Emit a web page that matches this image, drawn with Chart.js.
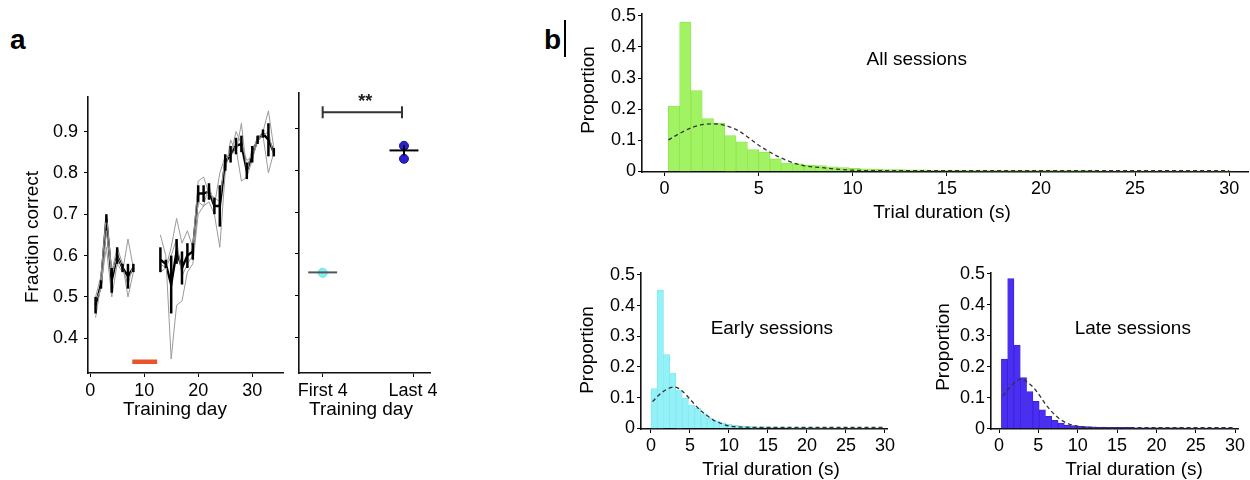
<!DOCTYPE html>
<html>
<head>
<meta charset="utf-8">
<script src="https://cdn.jsdelivr.net/npm/chart.js@4.4.1/dist/chart.umd.min.js"></script>
<style>
  body { margin: 0; background: #fff; width: 1250px; height: 480px; position: relative; overflow: hidden; font-family: "Liberation Sans", Arial, sans-serif; }
  canvas { position: absolute; }
  .panel-letter { position: absolute; font-weight: bold; font-size: 28px; line-height: 28px; color: #000; }
  .cursor-bar { position: absolute; background: #000; }
</style>
</head>
<body>
<div class="panel-letter" style="left:10px; top:26px;">a</div>
<div class="panel-letter" style="left:544px; top:26px;">b</div>
<div class="cursor-bar" style="left:564px; top:20px; width:2px; height:37px;"></div>

<canvas id="learnChart" width="290" height="340" style="left:0; top:80px;"></canvas>
<canvas id="groupChart" width="160" height="340" style="left:290px; top:80px;"></canvas>
<canvas id="allChart" width="690" height="230" style="left:560px; top:0;"></canvas>
<canvas id="earlyChart" width="330" height="220" style="left:570px; top:260px;"></canvas>
<canvas id="lateChart" width="330" height="220" style="left:920px; top:260px;"></canvas>

<script>
// ===== DATA: panel a, learning curve =====
var dayTicks = [0, 10, 20, 30];
var fracTicks = [0.4, 0.5, 0.6, 0.7, 0.8, 0.9];

var daysEarly = [1, 2, 3, 4, 5, 6, 7, 8];
var meanEarly = [0.48, 0.53, 0.69, 0.54, 0.60, 0.57, 0.55, 0.57];
var errEarly = [0.02, 0.01, 0.01, 0.03, 0.02, 0.01, 0.03, 0.01];
var subjEarly = [
    [0.45, 0.53, 0.62, 0.50, 0.58, 0.56, 0.64, 0.57],
    [0.50, 0.55, 0.70, 0.56, 0.62, 0.58, 0.50, 0.56],
    [0.49, 0.52, 0.66, 0.55, 0.60, 0.57, 0.53, 0.58]
];

var daysLate = [13, 14, 15, 16, 17, 18, 19, 20, 21, 22, 23, 24, 25, 26, 27, 28, 29, 30, 31, 32, 33, 34];
var meanLate = [0.59, 0.58, 0.53, 0.61, 0.57, 0.60, 0.61, 0.75, 0.75, 0.755, 0.72, 0.72, 0.825, 0.845, 0.865, 0.87, 0.805, 0.845, 0.88, 0.895, 0.88, 0.85];
var errLate = [0.03, 0.01, 0.07, 0.03, 0.04, 0.03, 0.02, 0.02, 0.02, 0.02, 0.02, 0.05, 0.02, 0.02, 0.02, 0.02, 0.02, 0.02, 0.01, 0.01, 0.04, 0.01];
var subjLate = [
    [0.65, 0.60, 0.35, 0.48, 0.49, 0.56, 0.58, 0.70, 0.72, 0.73, 0.70, 0.62, 0.80, 0.88, 0.85, 0.92, 0.80, 0.86, 0.88, 0.90, 0.95, 0.86],
    [0.58, 0.57, 0.62, 0.69, 0.63, 0.66, 0.62, 0.78, 0.79, 0.75, 0.74, 0.73, 0.84, 0.84, 0.90, 0.87, 0.83, 0.84, 0.89, 0.89, 0.80, 0.85],
    [0.56, 0.57, 0.60, 0.64, 0.55, 0.58, 0.60, 0.73, 0.72, 0.77, 0.72, 0.80, 0.84, 0.84, 0.86, 0.78, 0.79, 0.83, 0.88, 0.89, 0.90, 0.84]
];

var laserDays = [7.8, 12.4];
var laserLevel = 0.343;

// ===== DATA: panel a, first vs last 4 days =====
var groupLabels = ['First 4', 'Last 4'];
var groupPos = [1, 2];
var groupDotX = [1.0, 1.9];
var firstDots = [0.555];
var lastDots = [0.858, 0.827];
var groupMeans = [0.556, 0.847];
var groupErr = [0, 0.012];
var bracketX = [1.0, 1.878];
var bracketLevel = 0.938;

// ===== DATA: panel b, trial duration histograms =====
var durTicks = [0, 5, 10, 15, 20, 25, 30];
var propTicks = [0, 0.1, 0.2, 0.3, 0.4, 0.5];

var allBinStart = 0.2, allBinWidth = 0.6;
var allProp = [0.21, 0.48, 0.26, 0.17, 0.155, 0.115, 0.095, 0.07, 0.062, 0.04,
    0.027, 0.024, 0.02, 0.019, 0.015, 0.012, 0.01, 0.008, 0.007, 0.006,
    0.006, 0.005, 0.005, 0.004, 0.004, 0.004, 0.003, 0.003, 0.003, 0.003,
    0.003, 0.003, 0.003, 0.003, 0.003, 0.003, 0.003, 0.003, 0.002, 0.002,
    0.002, 0.002, 0.002, 0.002, 0.002, 0.002, 0.002, 0.002, 0.002, 0.002];
var allFitX = [0.2, 0.8, 1.5, 2.1, 2.6, 3.2, 4.0, 5.1, 6.2, 7.2, 8.5, 9.9, 12, 15, 20, 25, 30];
var allFitY = [0.101, 0.122, 0.142, 0.151, 0.153, 0.148, 0.128, 0.08, 0.043, 0.021, 0.011, 0.004, 0.002, 0.002, 0.002, 0.002, 0.002];

var earlyBinStart = 0.0, earlyBinWidth = 0.8;
var earlyProp = [0.13, 0.45, 0.24, 0.18, 0.125, 0.098, 0.076, 0.065, 0.047, 0.033,
    0.025, 0.018, 0.013, 0.01, 0.008, 0.007, 0.006, 0.005, 0.005, 0.004,
    0.004, 0.004, 0.003, 0.003, 0.003, 0.003, 0.003, 0.003, 0.003, 0.002,
    0.002, 0.002, 0.002, 0.002, 0.002, 0.002, 0.002];
var earlyFitX = [0.2, 1.0, 2.0, 3.0, 4.0, 5.0, 6.0, 7.0, 8.0, 9.0, 10.0, 12, 15, 20, 25, 30];
var earlyFitY = [0.087, 0.108, 0.127, 0.135, 0.122, 0.095, 0.067, 0.045, 0.027, 0.016, 0.008, 0.004, 0.003, 0.003, 0.003, 0.003];

var lateBinStart = 0.3, lateBinWidth = 0.8;
var lateProp = [0.225, 0.485, 0.27, 0.165, 0.12, 0.088, 0.061, 0.04, 0.027, 0.018,
    0.012, 0.01, 0.008, 0.007, 0.006, 0.005, 0.005, 0.004, 0.004, 0.004,
    0.004, 0.003, 0.003, 0.003, 0.003, 0.003, 0.003, 0.003, 0.003, 0.002,
    0.002, 0.002, 0.002, 0.002, 0.002, 0.002, 0.002];
var lateFitX = [0.5, 1.5, 2.8, 4.0, 4.8, 6.0, 7.3, 8.6, 10.3, 12, 15, 20, 25, 30];
var lateFitY = [0.106, 0.138, 0.16, 0.142, 0.12, 0.076, 0.04, 0.018, 0.007, 0.004, 0.003, 0.003, 0.003, 0.003];

// ===== DEFAULTS =====
var FONT = '"Liberation Sans", Arial, sans-serif';
Chart.defaults.font.family = FONT;
Chart.defaults.color = '#000';

// ===== HELPERS =====
function toXY(xs, ys) {
    return xs.map(function (x, i) { return { x: x, y: ys[i] }; });
}

function twoSegments(xa, ya, xb, yb) {
    return toXY(xa, ya).concat([{ x: (xa[xa.length - 1] + xb[0]) / 2, y: null }], toXY(xb, yb));
}

function makeScale(o) {
    return {
        type: 'linear',
        min: o.min,
        max: o.max,
        offset: false,
        afterBuildTicks: function (scale) {
            scale.ticks = o.ticks.map(function (v) { return { value: v }; });
        },
        afterFit: function (scale) {
            if (o.width != null) scale.width = o.width;
            if (o.height != null) scale.height = o.height;
        },
        grid: { display: true, offset: false, drawOnChartArea: false, drawTicks: true, tickLength: 4, color: '#000', lineWidth: 1 },
        border: { display: true, color: '#111', width: 1.6 },
        ticks: {
            display: o.labels !== false,
            color: '#000',
            padding: o.pad || 0,
            autoSkip: false,
            maxRotation: 0,
            font: { size: 18 },
            callback: o.cb || function (v) { return String(v); }
        },
        title: { display: false }
    };
}

// text drawn in canvas pixels, or in data units when item.data is set
var figureText = {
    id: 'figureText',
    afterDraw: function (chart, args, opts) {
        var ctx = chart.ctx;
        (opts.items || []).forEach(function (t) {
            var px = t.data ? chart.scales.x.getPixelForValue(t.x) : t.x;
            var py = t.data ? chart.scales.y.getPixelForValue(t.y) : t.y;
            ctx.save();
            ctx.translate(px, py);
            if (t.rot) ctx.rotate(-Math.PI / 2);
            ctx.font = (t.size || 19) + 'px ' + FONT;
            ctx.fillStyle = '#000';
            ctx.textAlign = 'center';
            ctx.textBaseline = 'middle';
            ctx.fillText(t.text, 0, 0);
            ctx.restore();
        });
    }
};

function vBar(chart, x, y0, y1, color, width) {
    var sx = chart.scales.x, sy = chart.scales.y, ctx = chart.ctx;
    ctx.save();
    ctx.strokeStyle = color;
    ctx.lineWidth = width;
    ctx.beginPath();
    ctx.moveTo(sx.getPixelForValue(x), sy.getPixelForValue(y0));
    ctx.lineTo(sx.getPixelForValue(x), sy.getPixelForValue(y1));
    ctx.stroke();
    ctx.restore();
}

// ===== PANEL A: LEARNING CURVE =====
var errorBars = {
    id: 'errorBars',
    afterDatasetsDraw: function (chart) {
        [[daysEarly, meanEarly, errEarly], [daysLate, meanLate, errLate]].forEach(function (seg) {
            for (var i = 0; i < seg[0].length; i++) {
                vBar(chart, seg[0][i], seg[1][i] - seg[2][i], seg[1][i] + seg[2][i], '#000', 2.5);
            }
        });
    }
};

var learnSets = subjEarly.map(function (s, i) {
    return {
        data: twoSegments(daysEarly, s, daysLate, subjLate[i]),
        borderColor: '#9a9a9a', borderWidth: 1, pointRadius: 0, spanGaps: false, tension: 0
    };
});
learnSets.push({
    data: twoSegments(daysEarly, meanEarly, daysLate, meanLate),
    borderColor: '#000', borderWidth: 2.4, pointRadius: 0, spanGaps: false, tension: 0
});
learnSets.push({
    data: laserDays.map(function (d) { return { x: d, y: laserLevel }; }),
    borderColor: '#e9552b', borderWidth: 4.5, pointRadius: 0
});

new Chart(document.getElementById('learnChart'), {
    type: 'line',
    data: { datasets: learnSets },
    options: {
        responsive: false, animation: false, devicePixelRatio: 1,
        layout: { padding: { left: 0, top: 13, right: 7, bottom: 0 } },
        plugins: {
            legend: { display: false }, tooltip: { enabled: false },
            figureText: { items: [
                { text: 'Training day', x: 175, y: 330 },
                { text: 'Fraction correct', x: 33, y: 157, rot: true }
            ] }
        },
        scales: {
            x: makeScale({ min: -0.4, max: 35.7, ticks: dayTicks, height: 47, pad: 3 }),
            y: makeScale({ min: 0.316, max: 0.984, ticks: fracTicks, width: 88, pad: 6 })
        }
    },
    plugins: [errorBars, figureText]
});

// ===== PANEL A: FIRST 4 vs LAST 4 =====
var groupMarks = {
    id: 'groupMarks',
    afterDatasetsDraw: function (chart) {
        var sx = chart.scales.x, sy = chart.scales.y, ctx = chart.ctx;
        // significance bracket
        var yb = sy.getPixelForValue(bracketLevel);
        var x0 = sx.getPixelForValue(bracketX[0]), x1 = sx.getPixelForValue(bracketX[1]);
        ctx.save();
        ctx.strokeStyle = '#333';
        ctx.lineWidth = 2;
        ctx.beginPath();
        ctx.moveTo(x0, yb); ctx.lineTo(x1, yb);
        ctx.moveTo(x0, yb - 6); ctx.lineTo(x0, yb + 6);
        ctx.moveTo(x1, yb - 6); ctx.lineTo(x1, yb + 6);
        ctx.stroke();
        ctx.fillStyle = '#222';
        ctx.font = 'bold 18px ' + FONT;
        ctx.textAlign = 'center';
        ctx.textBaseline = 'middle';
        ctx.fillText('**', (x0 + x1) / 2 + 3, yb - 10);
        ctx.restore();
        vBar(chart, groupDotX[1], groupMeans[1] - groupErr[1], groupMeans[1] + groupErr[1], '#000', 2);
    }
};

function meanBar(i, color) {
    return {
        data: [{ x: groupDotX[i] - 0.16, y: groupMeans[i] }, { x: groupDotX[i] + 0.16, y: groupMeans[i] }],
        borderColor: color, borderWidth: 2, pointRadius: 0
    };
}

new Chart(document.getElementById('groupChart'), {
    type: 'line',
    data: {
        datasets: [
            meanBar(0, '#555'),
            meanBar(1, '#000'),
            {
                data: firstDots.map(function (v) { return { x: groupDotX[0], y: v }; }),
                showLine: false, pointRadius: 4.5, pointBackgroundColor: '#7ef2f6', pointBorderColor: '#6ee0ea', pointBorderWidth: 1
            },
            {
                data: lastDots.map(function (v) { return { x: groupDotX[1], y: v }; }),
                showLine: false, pointRadius: 4.5, pointBackgroundColor: '#2c1fcc', pointBorderColor: '#1a1288', pointBorderWidth: 1
            }
        ]
    },
    options: {
        responsive: false, animation: false, devicePixelRatio: 1,
        layout: { padding: { left: 0, top: 13, right: 20, bottom: 0 } },
        plugins: {
            legend: { display: false }, tooltip: { enabled: false },
            figureText: { items: [{ text: 'Training day', x: 71, y: 330 }] }
        },
        scales: {
            x: makeScale({
                min: 0.738, max: 2.188, ticks: groupPos, height: 47, pad: 3,
                cb: function (v) { return groupLabels[groupPos.indexOf(v)]; }
            }),
            y: makeScale({ min: 0.316, max: 0.984, ticks: fracTicks, width: 9, labels: false })
        }
    },
    plugins: [groupMarks, figureText]
});

// ===== PANEL B: HISTOGRAMS =====
function makeHist(id, binStart, binWidth, props, fitX, fitY, fill, edge, c) {
    var bars = props.map(function (p, i) { return { x: binStart + binWidth * (i + 0.5), y: p }; });
    return new Chart(document.getElementById(id), {
        type: 'bar',
        data: {
            datasets: [
                {
                    type: 'line', data: toXY(fitX, fitY), borderColor: '#333', borderWidth: 1.3,
                    borderDash: [4, 3], pointRadius: 0, cubicInterpolationMode: 'monotone', fill: false, order: 0
                },
                {
                    type: 'bar', data: bars, backgroundColor: fill, borderColor: edge, borderWidth: 0.8,
                    barPercentage: 1, categoryPercentage: 1, order: 1
                }
            ]
        },
        options: {
            responsive: false, animation: false, devicePixelRatio: 1,
            layout: { padding: c.padding },
            plugins: {
                legend: { display: false }, tooltip: { enabled: false },
                figureText: { items: c.texts }
            },
            scales: {
                x: makeScale({ min: c.xmin, max: c.xmax, ticks: durTicks, height: c.xh, pad: 2 }),
                y: makeScale({ min: c.ymin, max: c.ymax, ticks: propTicks, width: c.yw, pad: 2 })
            }
        },
        plugins: [figureText]
    });
}

makeHist('allChart', allBinStart, allBinWidth, allProp, allFitX, allFitY, '#a2f363', '#8fe44c', {
    padding: { left: 0, top: 14, right: 2, bottom: 0 },
    xmin: -1.2, xmax: 31, ymin: -0.002, ymax: 0.506, xh: 58, yw: 82,
    texts: [
        { text: 'All sessions', x: 13.4, y: 0.359, data: true },
        { text: 'Trial duration (s)', x: 382, y: 213 },
        { text: 'Proportion', x: 29, y: 90, rot: true }
    ]
});

makeHist('earlyChart', earlyBinStart, earlyBinWidth, earlyProp, earlyFitX, earlyFitY, '#93f1f8', '#80e6f0', {
    padding: { left: 0, top: 13, right: 13, bottom: 0 },
    xmin: -1.28, xmax: 30.26, ymin: -0.002, ymax: 0.506, xh: 51, yw: 71,
    texts: [
        { text: 'Early sessions', x: 15.5, y: 0.323, data: true },
        { text: 'Trial duration (s)', x: 201, y: 210 },
        { text: 'Proportion', x: 18, y: 90, rot: true }
    ]
});

makeHist('lateChart', lateBinStart, lateBinWidth, lateProp, lateFitX, lateFitY, '#4a2ff2', '#3a20dc', {
    padding: { left: 0, top: 13, right: 12, bottom: 0 },
    xmin: -1.02, xmax: 30.37, ymin: -0.001, ymax: 0.503, xh: 51, yw: 71,
    texts: [
        { text: 'Late sessions', x: 17.0, y: 0.323, data: true },
        { text: 'Trial duration (s)', x: 214, y: 210 },
        { text: 'Proportion', x: 24, y: 87, rot: true }
    ]
});
</script>
</body>
</html>
